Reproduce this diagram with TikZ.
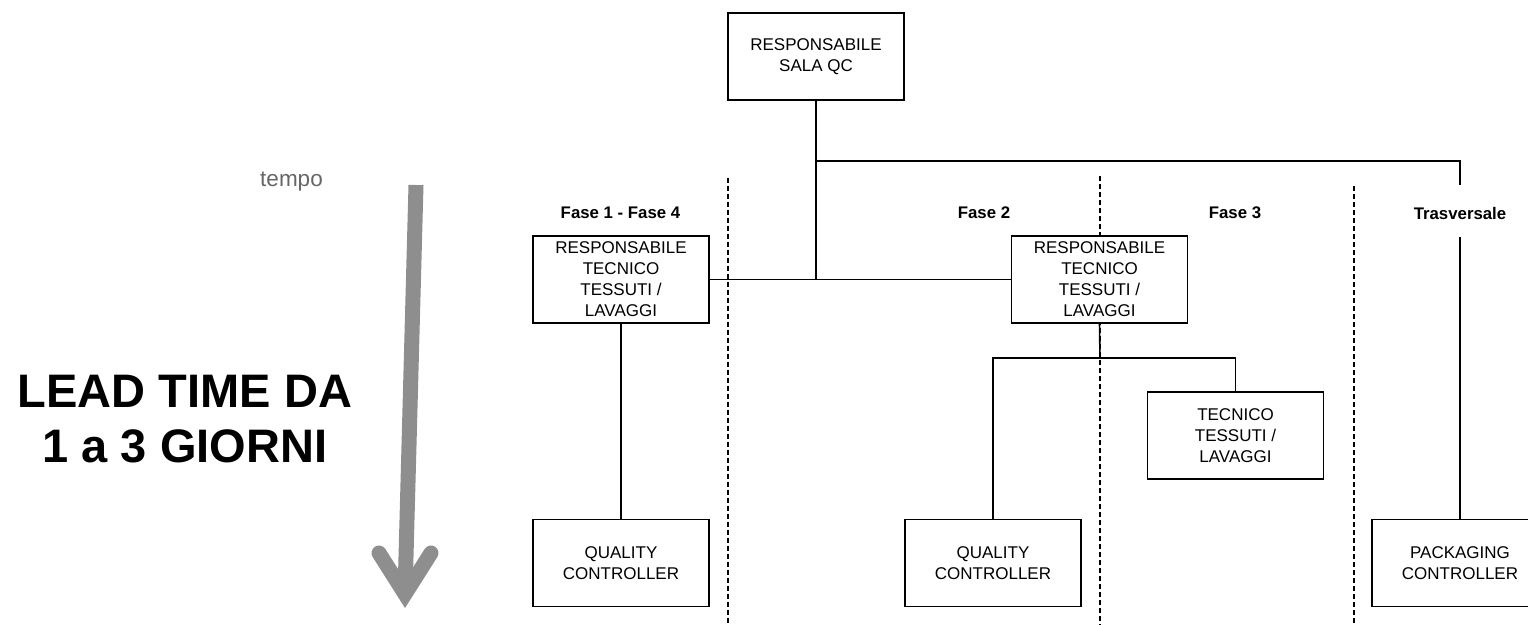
\documentclass[tikz,border=0pt]{standalone}
\usepackage{fontspec}
\setmainfont{Liberation Sans}
\definecolor{arrowgray}{HTML}{8E8E8E}
\definecolor{tempogray}{HTML}{666666}
\begin{document}
\begin{tikzpicture}[x=1pt,y=-1pt,
  box/.style={draw, line width=1.6pt, fill=white, minimum width=176pt, minimum height=87pt,
    inner sep=0pt, align=center, font=\fontsize{17}{21}\selectfont},
  conn/.style={line width=1.6pt},
  sepline/.style={line width=1.3pt, dash pattern=on 5pt off 3pt},
  phase/.style={font=\bfseries\fontsize{16.8}{20}\selectfont},
  timearrow/.style={line width=15pt, arrowgray},
]
\useasboundingbox (0,0) rectangle (1528,625);

% separators
\coordinate (s1a) at (728,178); \coordinate (s1b) at (728,625);
\coordinate (s2a) at (1100,176); \coordinate (s2b) at (1100,625);
\coordinate (s3a) at (1354,186); \coordinate (s3b) at (1354,625);
\draw[sepline] (s1a) -- (s1b);
\draw[sepline] (s2a) -- (s2b);
\draw[sepline] (s3a) -- (s3b);

% phase labels
\node[phase] (f14) at (620.5,213) {Fase 1 - Fase 4};
\node[phase] (f2) at (984,213) {Fase 2};
\node[phase] (f3) at (1235,213) {Fase 3};
\node[phase] (trv) at (1460,213) {Trasversale};

% boxes
\node[box] (top) at (816,56.5) {RESPONSABILE\\SALA QC};
\node[box] (rtl) at (621,279.5) {RESPONSABILE\\TECNICO\\TESSUTI /\\LAVAGGI};
\node[box] (rtr) at (1099.5,279.5) {RESPONSABILE\\TECNICO\\TESSUTI /\\LAVAGGI};
\node[box] (tec) at (1235.5,435.5) {TECNICO\\TESSUTI /\\LAVAGGI};
\node[box] (qcl) at (621,563) {QUALITY\\CONTROLLER};
\node[box] (qcm) at (993,563) {QUALITY\\CONTROLLER};
\node[box] (pack) at (1460,563) {PACKAGING\\CONTROLLER};

% connectors
\coordinate (j1) at (816,161);
\coordinate (tv1) at (1460,185);
\coordinate (tv2) at (1460,237);
\coordinate (j2) at (1100,358);
\draw[conn] (top.south) -- (top.south |- rtl.east);
\draw[conn] (rtl.east) -- (rtr.west);
\draw[conn] (j1) -| (tv1);
\draw[conn] (tv2) -- (pack.north);
\draw[conn] (rtl.south) -- (qcl.north);
\draw[conn] (rtr.south) -- (j2);
\draw[conn] (qcm.north) |- (j2) -| (tec.north);

% left side
\node[font=\fontsize{22.5}{26}\selectfont, text=tempogray, anchor=base] (tempo) at (291.5,186) {tempo};
\node[font=\bfseries\fontsize{47}{55}\selectfont, align=center] (lead) at (185,419) {LEAD TIME DA\\1 a 3 GIORNI};
\coordinate (as) at (416,185);
\coordinate (ae) at (405,594);
\coordinate (al) at (379,553);
\coordinate (ar) at (431,553);
\draw[timearrow] (as) -- (ae);
\draw[timearrow, line cap=round, line join=miter] (al) -- (ae) -- (ar);
\end{tikzpicture}
\end{document}
